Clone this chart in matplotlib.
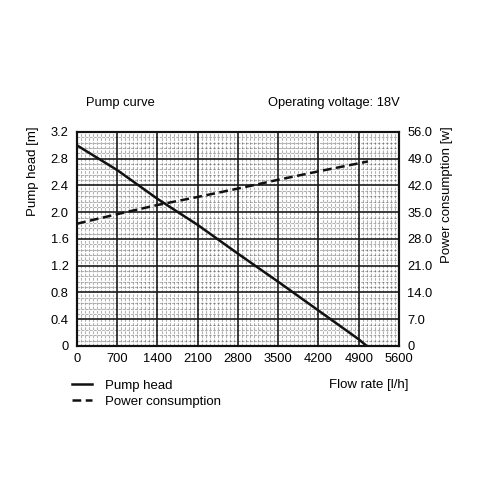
import matplotlib
matplotlib.use("Agg")
import matplotlib.pyplot as plt
import numpy as np
from matplotlib.ticker import MultipleLocator

plt.rcParams['font.family'] = ['Liberation Sans', 'DejaVu Sans']

flow = [0, 700, 1400, 2100, 2800, 3500, 4200, 4900, 5040]
head = [3.0, 2.63, 2.2, 1.81, 1.38, 0.96, 0.53, 0.10, 0.0]
flow_p = [0, 700, 1400, 2100, 2800, 3500, 4200, 4900, 5060]
power = [32.0, 34.5, 36.9, 39.0, 41.2, 43.5, 45.7, 47.8, 48.3]
xticks = [0, 700, 1400, 2100, 2800, 3500, 4200, 4900, 5600]
yticks_l = [0, 0.4, 0.8, 1.2, 1.6, 2.0, 2.4, 2.8, 3.2]
yticks_r = [0, 7, 14, 21, 28, 35, 42, 49, 56]

fig = plt.figure(figsize=(4.8, 4.8), dpi=100)
ax = fig.add_axes([0.1604, 0.2792, 0.6708, 0.4458])
ax.set_xlim(0, 5600)
ax.set_ylim(0, 3.2)
ax.set_xticks(xticks)
ax.set_yticks(yticks_l)
ax.set_yticklabels(['0' if v == 0 else f'{v:.1f}' for v in yticks_l])
ax.xaxis.set_minor_locator(MultipleLocator(70))
ax.yaxis.set_minor_locator(MultipleLocator(0.08))
ax.grid(which='minor', color='black', alpha=0.3, linestyle=(0, (2.5, 1.2)), linewidth=0.8)
ax.grid(which='major', color='#1a1a1a', linestyle='-', linewidth=1.2)
ax.set_axisbelow(True)
ax.tick_params(which='both', length=0, labelsize=9.3)
ax.tick_params(axis='x', pad=5)
ax.tick_params(axis='y', pad=6)
for s in ax.spines.values():
    s.set_linewidth(1.5)
    s.set_color('#111111')

l1, = ax.plot(flow, head, color='#111111', lw=1.8, label='Pump head', zorder=5)

ax2 = ax.twinx()
ax2.set_ylim(0, 56)
ax2.set_yticks(yticks_r)
ax2.set_yticklabels(['0' if v == 0 else f'{v:.1f}' for v in yticks_r])
ax2.tick_params(length=0, labelsize=9.3, pad=6)
for s in ax2.spines.values():
    s.set_linewidth(1.5)
    s.set_color('#111111')
l2, = ax2.plot(flow_p, power, color='#111111', lw=1.8, linestyle=(0, (3.5, 1.8)),
               label='Power consumption', zorder=5)

fig.text(0.068, 0.736, 'Pump head [m]', fontsize=9.5, rotation=90,
         ha='center', va='top')
fig.text(0.931, 0.736, 'Power consumption [w]', fontsize=9.5, rotation=90,
         ha='center', va='top')

fig.text(0.179, 0.785, 'Pump curve', fontsize=9.3, ha='left', va='center')
fig.text(0.833, 0.785, 'Operating voltage: 18V', fontsize=9.3, ha='right', va='center')
fig.text(0.852, 0.197, 'Flow rate [l/h]', fontsize=9.5, ha='right', va='center')

fig.legend(handles=[l1, l2], loc='upper left', bbox_to_anchor=(0.15, 0.209),
           frameon=False, fontsize=9.5, handlelength=1.5, handletextpad=1.0,
           labelspacing=0.3, borderaxespad=0, borderpad=0)

fig.savefig('out.png', dpi=100)
